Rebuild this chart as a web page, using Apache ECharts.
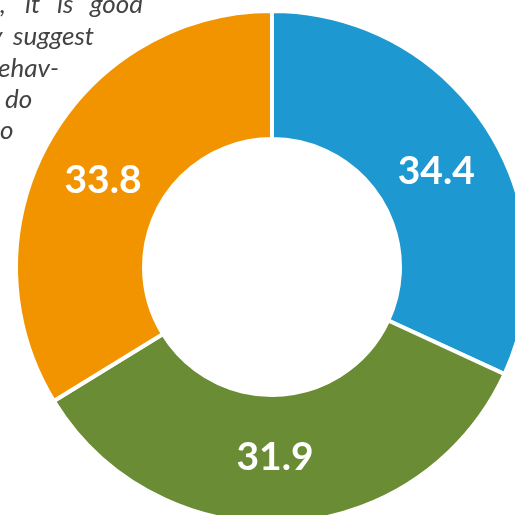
<!DOCTYPE html>
<html>
<head>
<meta charset="utf-8">
<script src="https://cdn.jsdelivr.net/npm/echarts@6/dist/echarts.min.js"></script>
<style>
  html, body { margin: 0; padding: 0; background: #ffffff; }
  #chart { width: 515px; height: 515px; }
</style>
</head>
<body>
<div id="chart"></div>
<script>
// Slice sizes as drawn (clockwise from 12 o'clock)
const categories = ['Blue', 'Green', 'Orange'];
const sliceValues = [31.9, 34.4, 33.8];
// Label values as printed on the chart (and used for label placement)
const labelValues = [34.4, 31.9, 33.8];
const colors = ['#1E98D0', '#6A8C35', '#F29400'];

// Fragment of running body text visible at the top-left
const textLines = [
  [{ t: ',', x: 0 }, { t: 'it', x: 25 }, { t: 'is', x: 57 }, { t: 'good', x: 90 }],
  [{ t: 'y', x: -10 }, { t: 'suggest', x: 13 }],
  [{ t: 'ehav-', x: -2 }],
  [{ t: 'do', x: 5 }],
  [{ t: 'to', x: -9 }]
];
const lineBaselines = [13, 45, 77, 108, 139];

const chart = echarts.init(document.getElementById('chart'), null, { renderer: 'canvas' });

const fontSize = 26;
const graphics = [];
textLines.forEach((line, i) => {
  line.forEach(w => {
    graphics.push({
      type: 'text',
      z: 0,
      style: {
        text: w.t,
        x: w.x,
        y: lineBaselines[i] - 0.32 * fontSize,
        font: 'italic ' + fontSize + 'px Lato',
        fill: '#434343',
        verticalAlign: 'middle',
        align: 'left'
      }
    });
  });
});

chart.setOption({
  animation: false,
  backgroundColor: '#ffffff',
  graphic: graphics,
  series: [
    {
      type: 'pie',
      center: [272, 267],
      radius: [128, 256],
      startAngle: 90,
      clockwise: true,
      silent: true,
      z: 2,
      label: { show: false },
      labelLine: { show: false },
      itemStyle: { borderColor: '#ffffff', borderWidth: 4 },
      data: categories.map((c, i) => ({
        name: c,
        value: sliceValues[i],
        itemStyle: { color: colors[i] }
      }))
    },
    {
      type: 'pie',
      center: [272, 267],
      radius: [122, 252],
      startAngle: 92,
      clockwise: true,
      silent: true,
      z: 3,
      itemStyle: { color: 'rgba(0,0,0,0)', borderWidth: 0 },
      labelLine: { show: false },
      label: {
        show: true,
        position: 'inside',
        color: '#ffffff',
        fontFamily: 'Lato',
        fontSize: 39,
        fontWeight: 'bold',
        formatter: p => labelValues[p.dataIndex].toFixed(1)
      },
      data: categories.map((c, i) => ({
        name: c,
        value: labelValues[i]
      }))
    }
  ]
});
</script>
</body>
</html>
